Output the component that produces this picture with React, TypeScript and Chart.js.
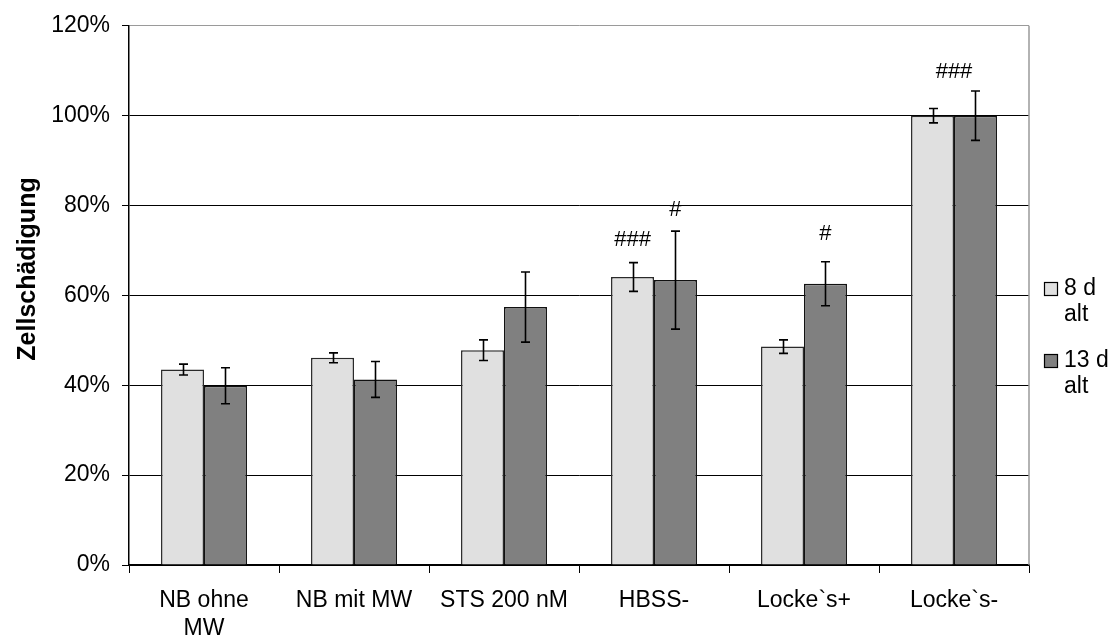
import React, { useEffect, useRef } from 'react';
import { Chart, registerables } from 'chart.js';

Chart.register(...registerables);

const categories: (string | string[])[] = [['NB ohne', 'MW'], 'NB mit MW', 'STS 200 nM', 'HBSS-', 'Locke`s+', 'Locke`s-'];
const seriesLabels: string[][] = [['8 d', 'alt'], ['13 d', 'alt']];
const values8d = [43.5, 46.1, 47.8, 64.1, 48.6, 100];
const errors8d = [1.2, 1.1, 2.3, 3.2, 1.5, 1.6];
const values13d = [39.9, 41.3, 57.4, 63.4, 62.6, 100];
const errors13d = [4.0, 4.0, 7.8, 10.9, 4.9, 5.5];
// significance marks: text and the value level at which they sit
const marks8d = ['', '', '', '###', '', ''];
const markLevels8d = [0, 0, 0, 72.3, 0, 0];
const marks13d = ['', '', '', '#', '#', ''];
const markLevels13d = [0, 0, 0, 79.0, 73.7, 0];
const groupMarks = ['', '', '', '', '', '###'];
const groupMarkLevels = [0, 0, 0, 0, 0, 109.8];
const yTicks = [0, 20, 40, 60, 80, 100, 120];
const yTitle = 'Zellschädigung';

const colors = ['#e0e0e0', '#808080'];
const FONT = "'Liberation Sans', Arial, Helvetica, sans-serif";

export default function App() {
  const ref = useRef<HTMLCanvasElement | null>(null);

  useEffect(() => {
    const canvas = ref.current;
    if (!canvas) return;

    const errorBars = {
      id: 'errorBars',
      afterDatasetsDraw(chart: any) {
        const ctx = chart.ctx;
        const y = chart.scales.y;
        const errs = [errors8d, errors13d];
        const vals = [values8d, values13d];
        ctx.save();
        ctx.strokeStyle = '#000';
        ctx.lineWidth = 1.6;
        chart.data.datasets.forEach((_: any, di: number) => {
          const meta = chart.getDatasetMeta(di);
          meta.data.forEach((bar: any, i: number) => {
            const v = vals[di][i];
            const e = errs[di][i];
            const x = Math.round(bar.x) + 0.5;
            const yt = y.getPixelForValue(v + e);
            const yb = y.getPixelForValue(v - e);
            ctx.beginPath();
            ctx.moveTo(x, yt);
            ctx.lineTo(x, yb);
            ctx.moveTo(x - 4.5, yt);
            ctx.lineTo(x + 4.5, yt);
            ctx.moveTo(x - 4.5, yb);
            ctx.lineTo(x + 4.5, yb);
            ctx.stroke();
          });
        });
        // significance marks
        ctx.fillStyle = '#000';
        ctx.font = `22px ${FONT}`;
        ctx.textAlign = 'center';
        ctx.textBaseline = 'middle';
        const marks = [marks8d, marks13d];
        const levels = [markLevels8d, markLevels13d];
        for (let di = 0; di < 2; di++) {
          const meta = chart.getDatasetMeta(di);
          meta.data.forEach((bar: any, i: number) => {
            if (marks[di][i]) ctx.fillText(marks[di][i], bar.x, y.getPixelForValue(levels[di][i]));
          });
        }
        const xs = chart.scales.x;
        groupMarks.forEach((m, i) => {
          if (m) ctx.fillText(m, xs.getPixelForValue(i), y.getPixelForValue(groupMarkLevels[i]));
        });
        ctx.restore();
      },
      afterDraw(chart: any) {
        const ctx = chart.ctx;
        const area = chart.chartArea;
        ctx.save();
        // y title
        ctx.fillStyle = '#000';
        ctx.font = `bold 25px ${FONT}`;
        ctx.textAlign = 'center';
        ctx.textBaseline = 'middle';
        ctx.translate(28, 269);
        ctx.rotate(-Math.PI / 2);
        ctx.fillText(yTitle, 0, 0);
        ctx.restore();
        // legend
        ctx.save();
        ctx.font = `23px ${FONT}`;
        ctx.textAlign = 'left';
        ctx.textBaseline = 'middle';
        const lx = area.right + 15;
        const tops = [289, 361];
        seriesLabels.forEach((lines, i) => {
          const cy = tops[i];
          ctx.fillStyle = colors[i];
          ctx.fillRect(lx, cy - 7, 14, 14);
          ctx.strokeStyle = '#000';
          ctx.lineWidth = 1.2;
          ctx.strokeRect(lx + 0.5, cy - 6.5, 13, 13);
          ctx.fillStyle = '#000';
          lines.forEach((t, j) => ctx.fillText(t, lx + 20, cy + j * 26));
        });
        ctx.restore();
      },
    };

    const chart = new Chart(canvas, {
      type: 'bar',
      data: {
        labels: categories,
        datasets: [
          {
            label: seriesLabels[0].join(' '),
            data: values8d,
            backgroundColor: colors[0],
            borderColor: '#2a2a2a',
            borderWidth: 1.5,
            categoryPercentage: 0.573,
            barPercentage: 1,
          },
          {
            label: seriesLabels[1].join(' '),
            data: values13d,
            backgroundColor: colors[1],
            borderColor: '#111',
            borderWidth: 1.5,
            categoryPercentage: 0.573,
            barPercentage: 1,
          },
        ],
      },
      options: {
        responsive: false,
        animation: false,
        layout: { autoPadding: false, padding: { top: 19, right: 91, left: 0, bottom: 0 } },
        plugins: {
          legend: { display: false },
          tooltip: { enabled: false },
        },
        scales: {
          x: {
            afterFit: (s: any) => { s.height = 76; },
            grid: {
              offset: true,
              drawOnChartArea: false,
              drawTicks: true,
              tickLength: 8,
              color: '#000',
            },
            border: { color: '#000', width: 1.5 },
            ticks: {
              color: '#000',
              padding: 14,
              maxRotation: 0,
              autoSkip: false,
              font: { family: FONT, size: 23, lineHeight: 1.2 },
            },
          },
          y: {
            min: 0,
            max: 120,
            afterFit: (s: any) => { s.width = 129; },
            afterBuildTicks: (s: any) => { s.ticks = yTicks.map((v) => ({ value: v })); },
            grid: {
              color: (c: any) => (c.tick && c.tick.value === 120 ? '#9a9a9a' : '#000'),
              lineWidth: 1,
              tickLength: 7,
              tickColor: '#000',
            },
            border: { color: '#000', width: 1.5 },
            ticks: {
              color: '#000',
              padding: 12,
              font: { family: FONT, size: 23 },
              callback: (v: any) => `${v}%`,
            },
          },
        },
      },
      plugins: [
        errorBars,
        {
          id: 'rightBorder',
          beforeDatasetsDraw(chart: any) {
            const { ctx, chartArea } = chart;
            ctx.save();
            ctx.strokeStyle = '#9a9a9a';
            ctx.lineWidth = 1.5;
            ctx.beginPath();
            ctx.moveTo(chartArea.right, chartArea.top);
            ctx.lineTo(chartArea.right, chartArea.bottom);
            ctx.stroke();
            ctx.restore();
          },
        },
      ],
    });

    return () => chart.destroy();
  }, []);

  return (
    <div style={{ position: 'fixed', left: 0, top: 0, width: 1120, height: 641, background: '#fff' }}>
      <canvas ref={ref} width={1120} height={641} style={{ width: 1120, height: 641, display: 'block' }} />
    </div>
  );
}
